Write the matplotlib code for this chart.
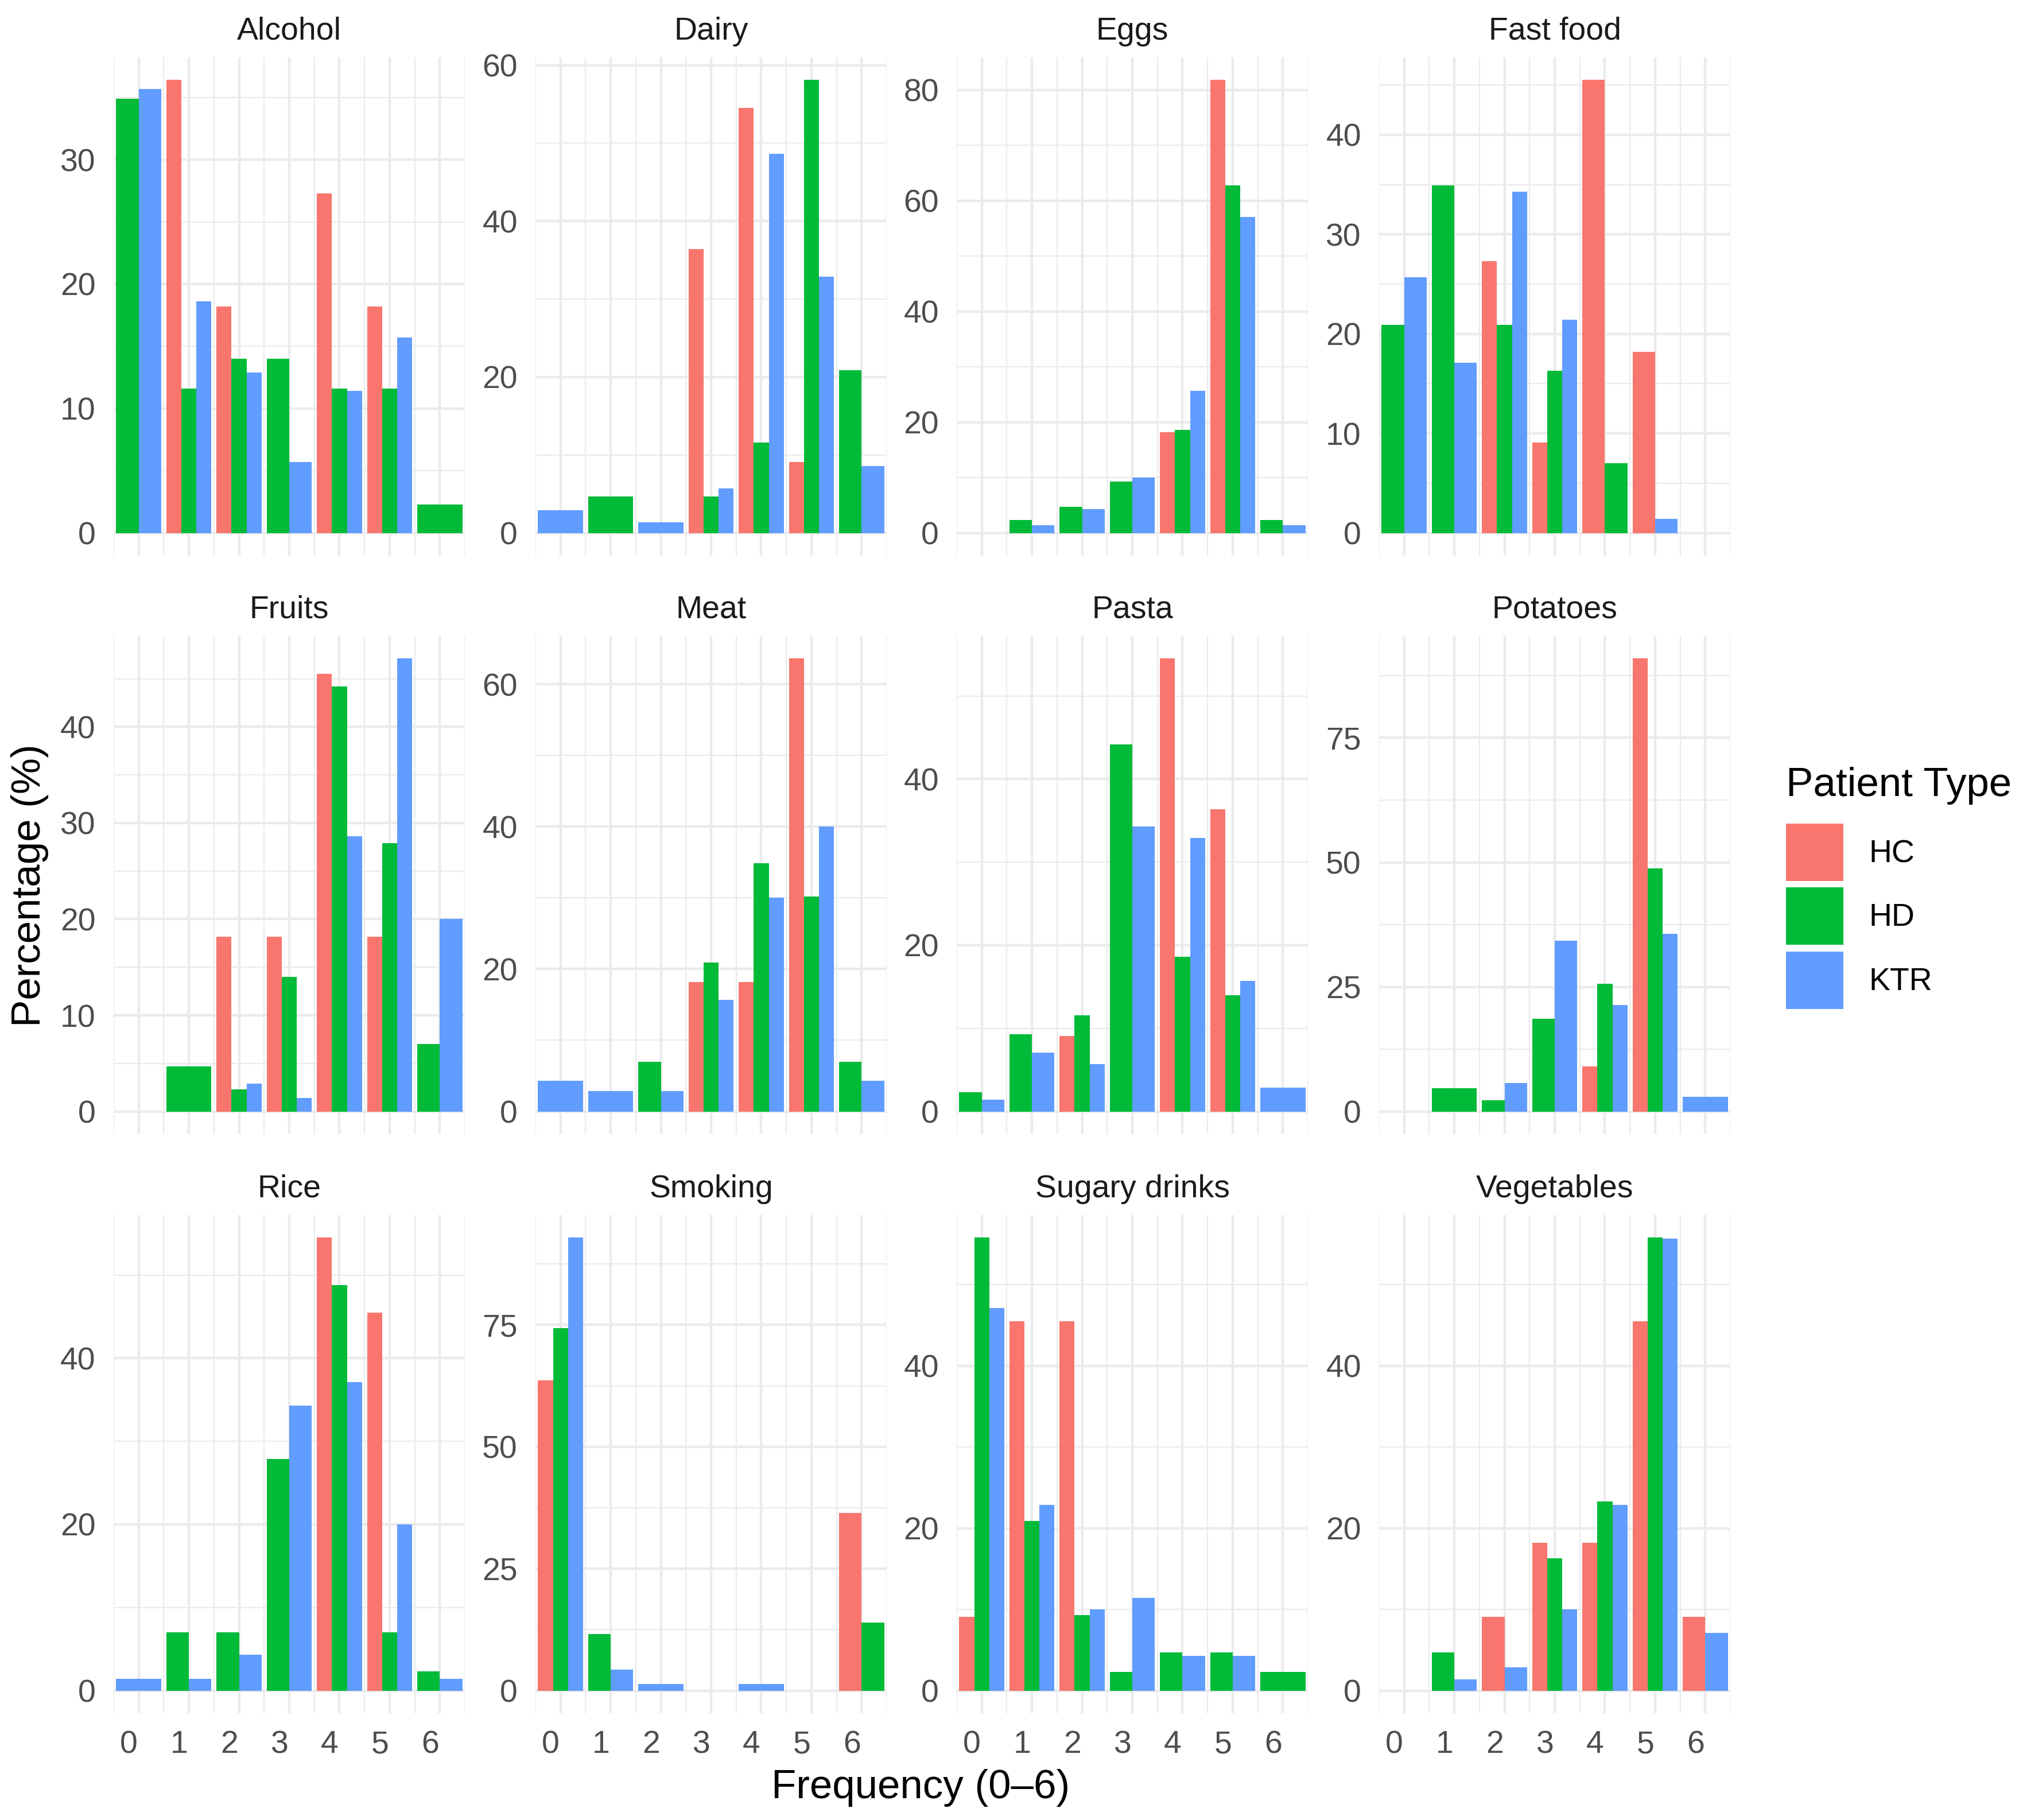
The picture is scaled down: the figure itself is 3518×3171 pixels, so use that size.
import numpy as np
import matplotlib
matplotlib.use("Agg")
import matplotlib.pyplot as plt
import matplotlib.transforms as mtransforms
from matplotlib.patches import Patch

plt.rcParams['font.family'] = ['Liberation Sans', 'DejaVu Sans']

# ---------------- data ----------------
categories = ["Alcohol", "Dairy", "Eggs", "Fast food",
              "Fruits", "Meat", "Pasta", "Potatoes",
              "Rice", "Smoking", "Sugary drinks", "Vegetables"]
frequency = [0, 1, 2, 3, 4, 5, 6]
groups = ["HC", "HD", "KTR"]

hc_pct = {
    "Alcohol":       [0, 36.4, 18.2, 0, 27.3, 18.2, 0],
    "Dairy":         [0, 0, 0, 36.4, 54.5, 9.1, 0],
    "Eggs":          [0, 0, 0, 0, 18.2, 81.8, 0],
    "Fast food":     [0, 0, 27.3, 9.1, 45.5, 18.2, 0],
    "Fruits":        [0, 0, 18.2, 18.2, 45.5, 18.2, 0],
    "Meat":          [0, 0, 0, 18.2, 18.2, 63.6, 0],
    "Pasta":         [0, 0, 9.1, 0, 54.5, 36.4, 0],
    "Potatoes":      [0, 0, 0, 0, 9.1, 90.9, 0],
    "Rice":          [0, 0, 0, 0, 54.5, 45.5, 0],
    "Smoking":       [63.6, 0, 0, 0, 0, 0, 36.4],
    "Sugary drinks": [9.1, 45.5, 45.5, 0, 0, 0, 0],
    "Vegetables":    [0, 0, 9.1, 18.2, 18.2, 45.5, 9.1],
}
hd_pct = {
    "Alcohol":       [34.9, 11.6, 14.0, 14.0, 11.6, 11.6, 2.3],
    "Dairy":         [0, 4.7, 0, 4.7, 11.6, 58.1, 20.9],
    "Eggs":          [0, 2.3, 4.7, 9.3, 18.6, 62.8, 2.3],
    "Fast food":     [20.9, 34.9, 20.9, 16.3, 7.0, 0, 0],
    "Fruits":        [0, 4.7, 2.3, 14.0, 44.2, 27.9, 7.0],
    "Meat":          [0, 0, 7.0, 20.9, 34.9, 30.2, 7.0],
    "Pasta":         [2.3, 9.3, 11.6, 44.2, 18.6, 14.0, 0],
    "Potatoes":      [0, 4.7, 2.3, 18.6, 25.6, 48.8, 0],
    "Rice":          [0, 7.0, 7.0, 27.9, 48.8, 7.0, 2.3],
    "Smoking":       [74.4, 11.6, 0, 0, 0, 0, 14.0],
    "Sugary drinks": [55.8, 20.9, 9.3, 2.3, 4.7, 4.7, 2.3],
    "Vegetables":    [0, 4.7, 0, 16.3, 23.3, 55.8, 0],
}
ktr_pct = {
    "Alcohol":       [35.7, 18.6, 12.9, 5.7, 11.4, 15.7, 0],
    "Dairy":         [2.9, 0, 1.4, 5.7, 48.6, 32.9, 8.6],
    "Eggs":          [0, 1.4, 4.3, 10.0, 25.7, 57.1, 1.4],
    "Fast food":     [25.7, 17.1, 34.3, 21.4, 0, 1.4, 0],
    "Fruits":        [0, 0, 2.9, 1.4, 28.6, 47.1, 20.0],
    "Meat":          [4.3, 2.9, 2.9, 15.7, 30.0, 40.0, 4.3],
    "Pasta":         [1.4, 7.1, 5.7, 34.3, 32.9, 15.7, 2.9],
    "Potatoes":      [0, 0, 5.7, 34.3, 21.4, 35.7, 2.9],
    "Rice":          [1.4, 1.4, 4.3, 34.3, 37.1, 20.0, 1.4],
    "Smoking":       [92.9, 4.3, 1.4, 0, 1.4, 0, 0],
    "Sugary drinks": [47.1, 22.9, 10.0, 11.4, 4.3, 4.3, 0],
    "Vegetables":    [0, 1.4, 2.9, 10.0, 22.9, 55.7, 7.1],
}
y_breaks = {
    "Alcohol": [0, 10, 20, 30], "Dairy": [0, 20, 40, 60],
    "Eggs": [0, 20, 40, 60, 80], "Fast food": [0, 10, 20, 30, 40],
    "Fruits": [0, 10, 20, 30, 40], "Meat": [0, 20, 40, 60],
    "Pasta": [0, 20, 40], "Potatoes": [0, 25, 50, 75],
    "Rice": [0, 20, 40], "Smoking": [0, 25, 50, 75],
    "Sugary drinks": [0, 20, 40], "Vegetables": [0, 20, 40],
}

colors = {"HC": "#F8766D", "HD": "#00BA38", "KTR": "#619CFF"}
series = {"HC": hc_pct, "HD": hd_pct, "KTR": ktr_pct}

# ---------------- layout ----------------
W, H, DPI = 3518, 3171, 300
fig = plt.figure(figsize=(W / DPI, H / DPI), dpi=DPI)
fig.patch.set_facecolor("white")

col_left = [198, 933, 1667, 2403]
row_top = [100, 1108, 2117]
pw, ph = 612, 868

grid_col = "#EBEBEB"
tick_col = "#4D4D4D"
fs_small = 13.3
fs_big = 17
shift = mtransforms.ScaledTranslation(-17 / DPI, 0, fig.dpi_scale_trans)

total_w = 0.9
for idx, cat in enumerate(categories):
    r, c = divmod(idx, 4)
    left = col_left[c] / W
    bottom = 1 - (row_top[r] + ph) / H
    ax = fig.add_axes([left, bottom, pw / W, ph / H])
    ax.set_facecolor("white")

    vals = {g: series[g][cat] for g in groups}
    ymax = max(max(v) for v in vals.values())
    for i, x in enumerate(frequency):
        present = [g for g in groups if vals[g][i] > 0]
        n = len(present)
        if n == 0:
            continue
        w = total_w / n
        for k, g in enumerate(present):
            xc = x - total_w / 2 + w * (k + 0.5)
            ax.bar(xc, vals[g][i], width=w, color=colors[g], edgecolor="none",
                   zorder=3)

    ax.set_xlim(-0.5, 6.5)
    ax.set_ylim(-0.05 * ymax, 1.05 * ymax)

    yb = y_breaks[cat]
    step = yb[1] - yb[0]
    ax.set_yticks(yb)
    ax.set_yticks(np.arange(step / 2, 1.05 * ymax, step), minor=True)
    ax.set_xticks(frequency)
    ax.set_xticks(np.arange(-0.5, 7.0, 1.0), minor=True)

    ax.grid(which="major", color=grid_col, linewidth=1.07, zorder=0)
    ax.grid(which="minor", color=grid_col, linewidth=0.53, zorder=0)
    ax.set_axisbelow(True)
    for s in ax.spines.values():
        s.set_visible(False)

    ax.tick_params(which="both", length=0)
    ax.tick_params(axis="y", labelsize=fs_small, labelcolor=tick_col, pad=7.5)
    ax.tick_params(axis="x", labelsize=fs_small, labelcolor=tick_col, pad=7)
    ax.set_yticklabels([str(v) for v in yb])
    if r == 2:
        ax.set_xticklabels([str(v) for v in frequency])
        for lab in ax.get_xticklabels():
            lab.set_transform(lab.get_transform() + shift)
    else:
        ax.set_xticklabels([])

    ax.set_title(cat, fontsize=fs_small, color="#1A1A1A", pad=7.5)

# axis titles
fig.text(1604 / W, 1 - 3115 / H, "Frequency (0–6)", ha="center", va="center",
         fontsize=fs_big, color="black")
fig.text(52 / W, 1 - 1543 / H, "Percentage (%)", ha="center", va="center",
         rotation=90, fontsize=fs_big, color="black")

# legend
handles = [Patch(facecolor=colors[g], edgecolor="none", label=g) for g in groups]
leg = fig.legend(handles=handles, title="Patient Type", loc="upper left",
                 bbox_to_anchor=(3112 / W, 1 - 1336 / H), frameon=False,
                 fontsize=fs_small, title_fontsize=fs_big, handlelength=1.8,
                 handleheight=2.4, handletextpad=0.8, labelspacing=0.2,
                 borderpad=0, borderaxespad=0)
leg._legend_box.align = "left"
leg._legend_box.sep = 8

fig.savefig("out.png", dpi=DPI, facecolor="white")
